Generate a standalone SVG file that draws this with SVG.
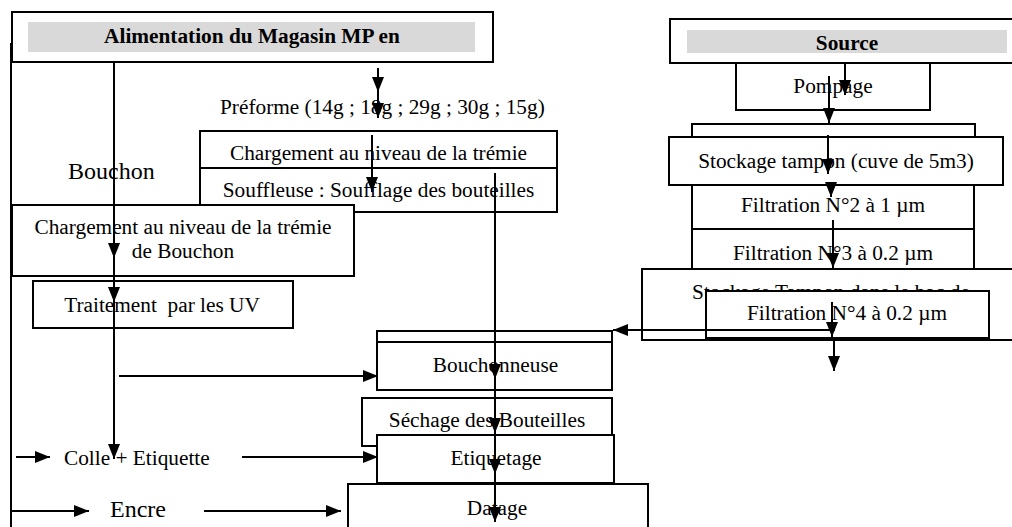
<svg xmlns="http://www.w3.org/2000/svg" width="1012" height="527" viewBox="0 0 1012 527">
<style>
  .box { fill: #ffffff; stroke: #000000; stroke-width: 2; }
  .bar { fill: #d9d9d9; stroke: none; }
  .t { font-family: "Liberation Serif", "Times New Roman", serif; font-size: 21.3px; fill: #000000; }
  .c { text-anchor: middle; }
  .b { font-weight: bold; }
  .big { font-size: 24px; }
  .ln { stroke: #000000; stroke-width: 2; fill: none; marker-end: url(#ah); }
  .pl { stroke: #000000; stroke-width: 2; fill: none; }
</style>
<defs>
  <marker id="ah" markerUnits="userSpaceOnUse" markerWidth="15" markerHeight="12" refX="15" refY="6" orient="auto">
    <path d="M0,0 L15,6 L0,12 Z" fill="#000000"/>
  </marker>
</defs>
<rect x="0" y="0" width="1012" height="527" fill="#ffffff"/>

<g id="node-alimentation">
  <rect class="box" x="12" y="12" width="481" height="50"/>
  <rect class="bar" x="28" y="22" width="447" height="30"/>
  <text class="t c b" x="252" y="43">Alimentation du Magasin MP en</text>
</g>
<g id="label-preforme">
  <text class="t" x="220" y="114">Préforme (14g ; 18g ; 29g ; 30g ; 15g)</text>
</g>
<g id="node-chargement-tremie">
  <rect class="box" x="200" y="131" width="357" height="37"/>
  <text class="t c" x="378.5" y="160">Chargement au niveau de la trémie</text>
</g>
<g id="node-souffleuse">
  <rect class="box" x="200" y="168" width="357" height="44"/>
  <text class="t c" x="378.5" y="197">Souffleuse : Soufflage des bouteilles</text>
</g>
<g id="label-bouchon">
  <text class="t big" x="68" y="179">Bouchon</text>
</g>
<g id="node-chargement-bouchon">
  <rect class="box" x="12" y="205" width="342" height="71"/>
  <text class="t c" x="183" y="234">Chargement au niveau de la trémie</text>
  <text class="t c" x="183" y="258">de Bouchon</text>
</g>
<g id="node-traitement-uv">
  <rect class="box" x="33" y="281" width="260" height="47"/>
  <text class="t c" x="162" y="312" xml:space="preserve">Traitement  par les UV</text>
</g>
<g id="node-bouchonneuse">
  <rect class="box" x="377" y="331" width="235" height="11"/>
  <rect class="box" x="377" y="342" width="235" height="48"/>
  <text class="t c" x="495.5" y="372">Bouchonneuse</text>
</g>
<g id="node-sechage">
  <rect class="box" x="362" y="398" width="250" height="48"/>
  <text class="t c" x="487" y="427">Séchage des Bouteilles</text>
</g>
<g id="node-etiquetage">
  <rect class="box" x="377" y="435" width="237" height="48"/>
  <text class="t c" x="496" y="465">Etiquetage</text>
</g>
<g id="node-datage">
  <rect class="box" x="348" y="484" width="300" height="50"/>
  <text class="t c" x="497" y="515">Datage</text>
</g>
<g id="label-colle">
  <text class="t" x="64" y="465">Colle + Etiquette</text>
</g>
<g id="label-encre">
  <text class="t big" x="110" y="517">Encre</text>
</g>

<g id="node-source">
  <rect class="box" x="670" y="19" width="345" height="44"/>
  <rect class="bar" x="687" y="30" width="320" height="23"/>
  <text class="t c b" x="847" y="50">Source</text>
</g>
<g id="node-pompage">
  <rect class="box" x="736" y="63" width="194" height="47"/>
  <text class="t c" x="833" y="93">Pompage</text>
</g>
<g id="node-filtration2">
  <rect class="box" x="692" y="183" width="282" height="46"/>
  <text class="t c" x="833" y="212">Filtration N°2 à 1 µm</text>
</g>
<g id="node-stockage-cuve">
  <rect class="box" x="692" y="124" width="283" height="20"/>
  <rect class="box" x="669" y="137" width="334" height="48"/>
  <text class="t c" x="836" y="168">Stockage tampon (cuve de 5m3)</text>
</g>
<g id="node-filtration3">
  <rect class="box" x="692" y="229" width="282" height="40"/>
  <text class="t c" x="833" y="260">Filtration N°3 à 0.2 µm</text>
</g>
<g id="node-stockage-bac">
  <rect class="box" x="642" y="269" width="373" height="71"/>
  <text class="t" x="692" y="299">Stockage Tampon dans le bac de</text>
</g>
<g id="node-filtration4">
  <rect class="box" x="706" y="291" width="283" height="47"/>
  <text class="t c" x="847" y="320">Filtration N°4 à 0.2 µm</text>
</g>

<g id="connectors">
  <path class="pl" d="M11,43 V527"/>
  <path class="ln" d="M114,62 V258"/>
  <path class="ln" d="M114,258 V302"/>
  <path class="ln" d="M114,302 V459"/>
  <path class="ln" d="M119,376 H378"/>
  <path class="ln" d="M16,457 H50"/>
  <path class="ln" d="M242,457 H378"/>
  <path class="ln" d="M11,511 H89"/>
  <path class="ln" d="M204,511 H341"/>
  <path class="ln" d="M378,68 V92"/>
  <path class="ln" d="M378,92 V118"/>
  <path class="ln" d="M372,135 V192"/>
  <path class="ln" d="M495,173 V379"/>
  <path class="ln" d="M495,379 V433"/>
  <path class="ln" d="M495,433 V474"/>
  <path class="ln" d="M495,474 V522"/>
  <path class="ln" d="M845,63 V95"/>
  <path class="ln" d="M829,76 V123"/>
  <path class="ln" d="M828,135 V174"/>
  <path class="ln" d="M831,185 V197"/>
  <path class="ln" d="M833,220 V268"/>
  <path class="ln" d="M832,302 V337"/>
  <path class="ln" d="M835,330 H613"/>
  <path class="ln" d="M834,339 V371"/>
</g>
</svg>
